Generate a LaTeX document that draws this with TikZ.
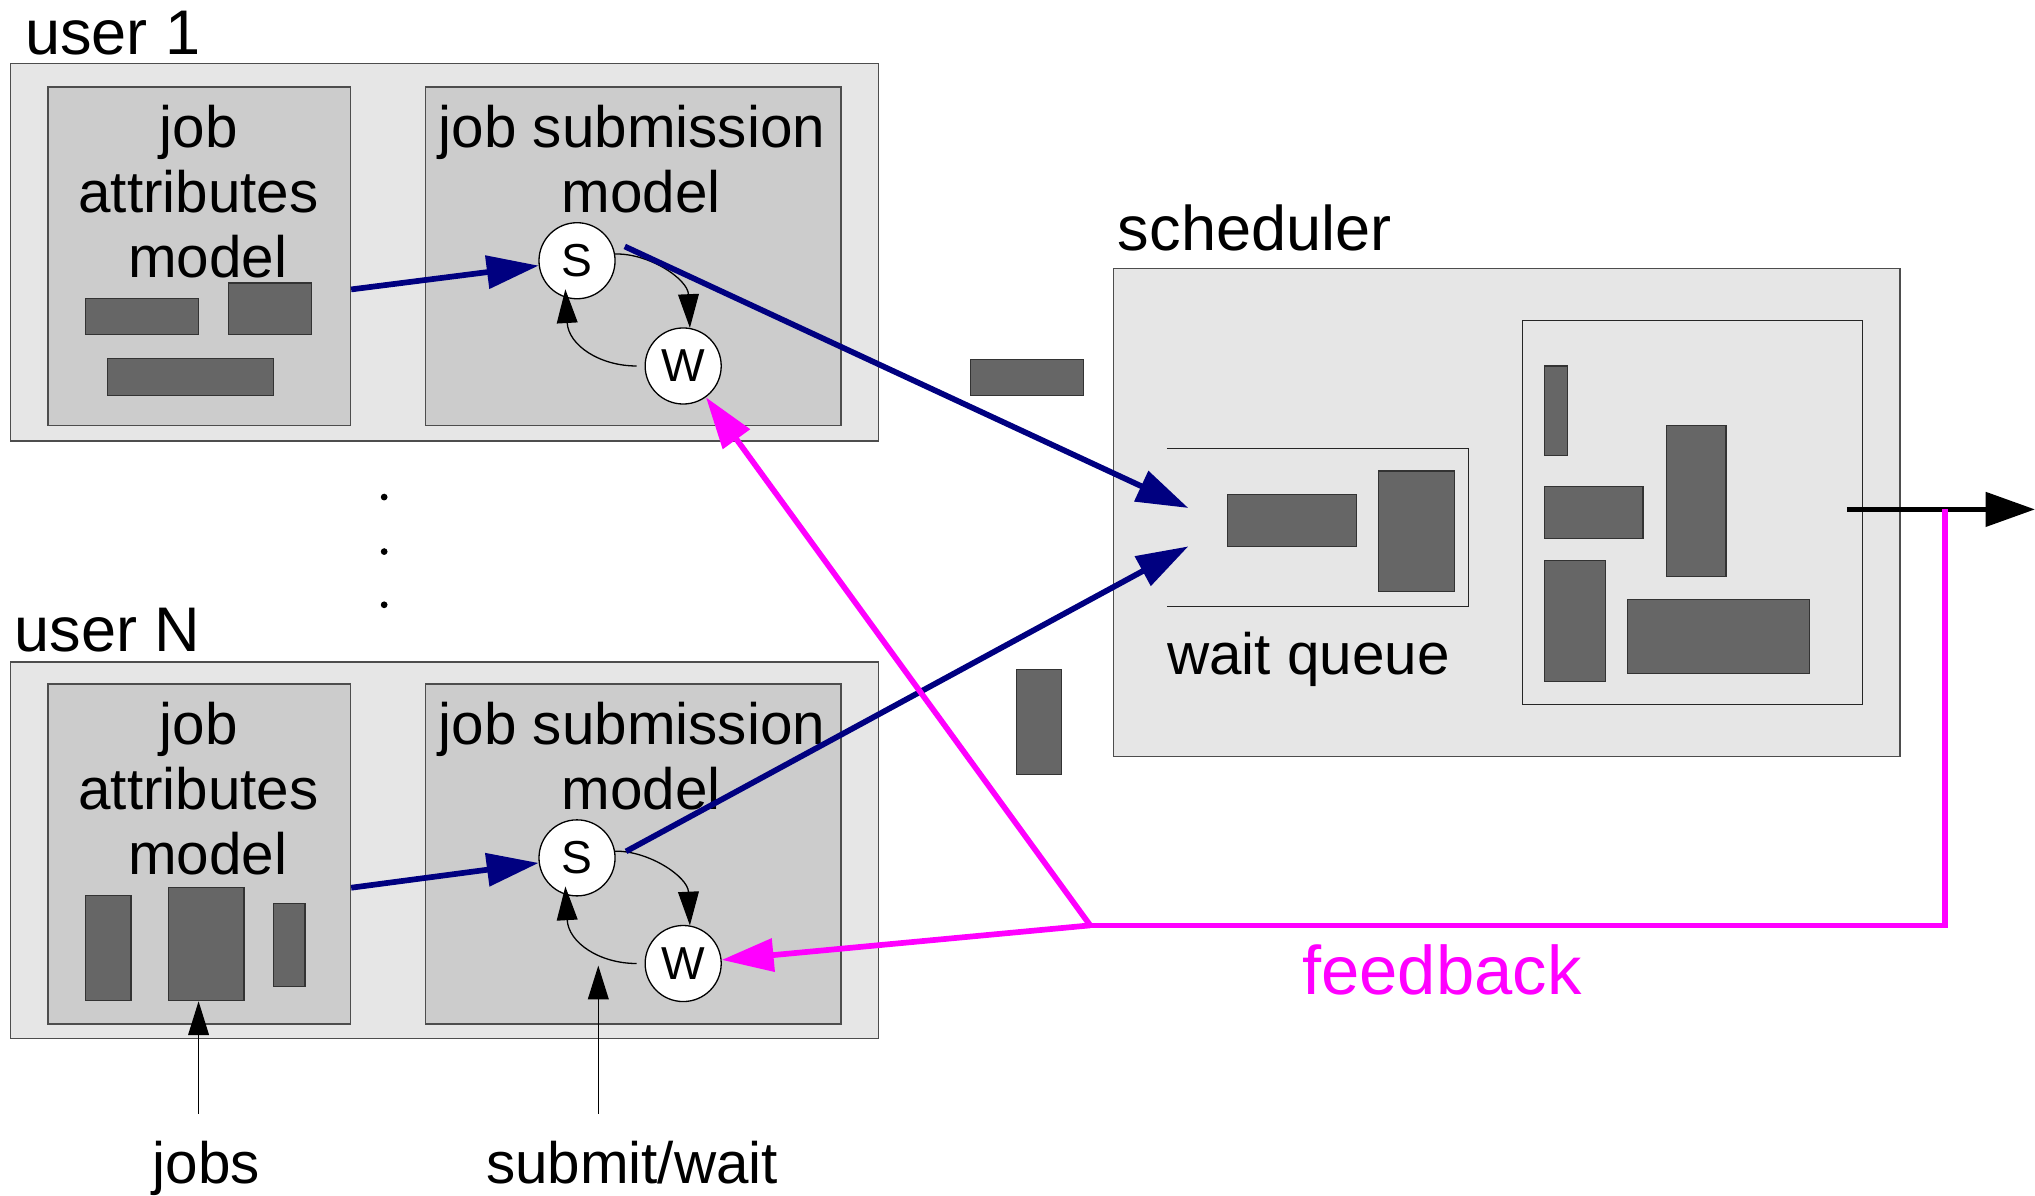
\documentclass[tikz,border=0pt]{standalone}
\usepackage{fontspec}
\setmainfont{Liberation Sans}
\usetikzlibrary{arrows.meta,calc,fit}

\definecolor{panel}{HTML}{E6E6E6}
\definecolor{inner}{HTML}{CCCCCC}
\definecolor{jobgray}{HTML}{666666}
\definecolor{edgegray}{HTML}{4D4D4D}
\definecolor{navy}{HTML}{000080}
\definecolor{fbcol}{HTML}{FF00FF}

\tikzset{
  panelbox/.style={draw=edgegray, line width=0.6pt, fill=panel, inner sep=0pt},
  modelbox/.style={draw=edgegray, line width=0.6pt, fill=inner, inner sep=0pt},
  plainbox/.style={draw=black!85, line width=0.5pt, inner sep=0pt},
  jobbar/.style={draw=black!80, line width=0.5pt, fill=jobgray, inner sep=0pt},
  state/.style={circle, draw=black, line width=0.5pt, fill=white,
    minimum size=29.3pt, inner sep=0pt, font=\fontsize{17.8}{20}\selectfont},
  flow/.style={navy, line width=2.2pt, -{Triangle[length=20pt,width=12.5pt]}},
  fbline/.style={fbcol, line width=2.2pt},
  fbarrow/.style={fbline, -{Triangle[length=20pt,width=12.5pt]}},
  outarrow/.style={black, line width=2pt, -{Triangle[length=19pt,width=13pt]}},
  thinarrow/.style={black, line width=0.5pt, -{Triangle[length=13pt,width=8pt]}},
  lbl/.style={inner sep=0pt, font=\fontsize{22.5}{25}\selectfont},
  head/.style={inner sep=0pt, font=\fontsize{24.3}{27}\selectfont},
}

\begin{document}
\begin{tikzpicture}[x=0.5pt,y=-0.5pt]
\useasboundingbox (0,0) rectangle (1568,921);

% ---------- user 1 ----------
\node[head, anchor=base west] (u1lbl) at (19,42) {user 1};
\node[panelbox, fit={(8,49)(677,340)}] (user1) {};
\node[modelbox, fit={(37,67)(270,328)}] (ja1) {};
\node[modelbox, fit={(328,67)(648,328)}] (js1) {};
\node[lbl, align=center, anchor=north] (ja1txt) at (153,81) {job\\attributes\\\hspace*{7pt}model};
\node[lbl, align=center, anchor=north] (js1txt) at (487,81) {job submission\\\hspace*{7pt}model};
\node[jobbar, fit={(66,230)(153,258)}] (bar11) {};
\node[jobbar, fit={(176,218)(240,258)}] (bar12) {};
\node[jobbar, fit={(83,276)(211,305)}] (bar13) {};
\node[state] (s1) at (444.6,200.9) {S};
\node[state] (w1) at (526.4,282) {W};

% ---------- dots between the users ----------
\fill (296,383) circle (2.6);
\fill (296,425) circle (2.6);
\fill (296,466) circle (2.6);

% ---------- user N ----------
\node[head, anchor=base west] (uNlbl) at (11,502) {user N};
\node[panelbox, fit={(8,510)(677,800)}] (userN) {};
\node[modelbox, fit={(37,527)(270,789)}] (jaN) {};
\node[modelbox, fit={(328,527)(648,789)}] (jsN) {};
\node[lbl, align=center, anchor=north] (jaNtxt) at (153,541) {job\\attributes\\\hspace*{7pt}model};
\node[lbl, align=center, anchor=north] (jsNtxt) at (487,541) {job submission\\\hspace*{7pt}model};
\node[jobbar, fit={(66,690)(101,771)}] (barN1) {};
\node[jobbar, fit={(130,684)(188,771)}] (barN2) {};
\node[jobbar, fit={(211,696)(235,760)}] (barN3) {};
\node[state] (sN) at (444.6,661) {S};
\node[state] (wN) at (526.4,742.4) {W};

% ---------- inputs at the bottom ----------
\node[lbl, anchor=base] (jobslbl) at (159,912) {jobs};
\node[lbl, anchor=base] (sublbl) at (487,912) {submit/wait};
\coordinate (jobsrc) at (153,858);
\coordinate (subsrc) at (461,858);
\coordinate (subtip) at (461,744);

% ---------- loose jobs in transit ----------
\node[jobbar, fit={(748,277)(835,305)}] (lbar1) {};
\node[jobbar, fit={(783,516)(818,597)}] (lbar2) {};

% ---------- scheduler ----------
\node[head, anchor=base west] (schedlbl) at (861,193) {scheduler};
\node[panelbox, fit={(858,207)(1464,583)}] (sched) {};
\draw[black!85, line width=0.5pt] (899,345.5) -| (1131.5,467.5) -- (899,467.5);
\node[jobbar, fit={(946,381)(1045,421)}] (qbar1) {};
\node[jobbar, fit={(1062,363)(1120.5,456)}] (qbar2) {};
\node[lbl, anchor=base west] (wqlbl) at (899,520) {wait queue};
\node[plainbox, fit={(1173,247)(1435,543)}] (run) {};
\node[jobbar, fit={(1190,282)(1208,351)}] (rbar1) {};
\node[jobbar, fit={(1190,375)(1266,415)}] (rbar2) {};
\node[jobbar, fit={(1284,328)(1330,444)}] (rbar3) {};
\node[jobbar, fit={(1190,432)(1237,525)}] (rbar4) {};
\node[jobbar, fit={(1254,462)(1394,519)}] (rbar5) {};
\coordinate (q1) at (915.6,391.4);
\coordinate (q2) at (915.6,421);
\coordinate (outA) at (1423,392.5);
\coordinate (outB) at (1568,392.5);
\coordinate (tap) at (1498.5,392.5);
\coordinate (fbj) at (840,713);

% ---------- state loops ----------
\draw[thinarrow] (s1.10) .. controls (500,195) and (530,215) .. (w1.80);
\draw[thinarrow] ($(w1.west)+(-6,0)$) .. controls (462,282) and (438,266) .. ($(s1.center)+(-9,22)$);
\draw[thinarrow] (sN.10) .. controls (500,655.5) and (530,675.5) .. (wN.80);
\draw[thinarrow] ($(wN.west)+(-6,0)$) .. controls (462,742.4) and (438,726.4) .. ($(sN.center)+(-9,22)$);

% ---------- job flow ----------
\draw[flow] ($(ja1.east)+(0,25.5)$) -- (s1);
\draw[flow] ($(jaN.east)+(0,26)$) -- (sN);
\draw[flow] ($(s1.east)+(7,-11)$) -- (q1);
\draw[flow] ($(sN.east)+(8,-5)$) -- (q2);
\draw[thinarrow] (jobsrc) -- (jobsrc |- barN2.south);
\draw[thinarrow] (subsrc) -- (subtip);
\draw[outarrow] (outA) -- (outB);

% ---------- feedback ----------
\draw[fbline] (tap) |- (fbj);
\draw[fbarrow] (fbj) -- (w1);
\draw[fbarrow] (fbj) -- (wN);
\node[inner sep=0pt, anchor=base west, text=fbcol, font=\fontsize{26.5}{30}\selectfont] (fblbl) at (1003,766) {feedback};
\end{tikzpicture}
\end{document}
